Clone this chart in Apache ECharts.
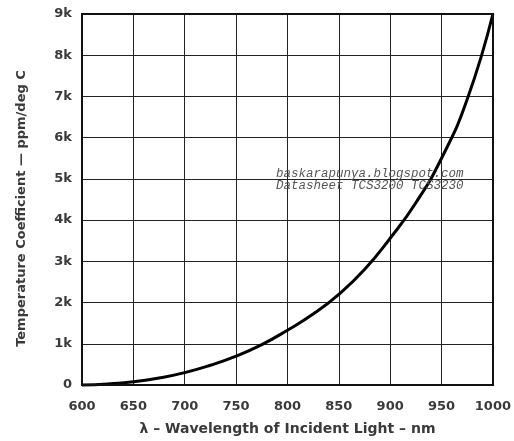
<!DOCTYPE html>
<html>
<head>
<meta charset="utf-8">
<style>html,body{margin:0;padding:0;background:#fff}#c{width:514px;height:441px}</style>
<script src="https://cdn.jsdelivr.net/npm/echarts@6/dist/echarts.min.js"></script>
</head>
<body>
<div id="c"></div>
<script>
var wavelength = [600, 625, 650, 675, 700, 725, 750, 775, 800, 825, 850, 875, 900, 925, 950, 975, 1000];
var tempCoef   = [0, 25, 80, 170, 300, 480, 700, 980, 1330, 1720, 2200, 2800, 3560, 4420, 5500, 6930, 9000];
var xTicks = [600, 650, 700, 750, 800, 850, 900, 950, 1000];
var yTickLabels = ['0', '1k', '2k', '3k', '4k', '5k', '6k', '7k', '8k', '9k'];
var xTitle = 'λ – Wavelength of Incident Light – nm';
var yTitle = 'Temperature Coefficient — ppm/deg C';
var watermark = ['baskarapunya.blogspot.com', 'Datasheet TCS3200 TCS3230'];

var chart = echarts.init(document.getElementById('c'), null, {renderer: 'canvas'});
var pts = wavelength.map(function (w, i) { return [w, tempCoef[i]]; });
var labelFont = {fontFamily: 'DejaVu Sans', fontSize: 13, fontWeight: 'bold', color: '#3a3a3a'};
chart.setOption({
  animation: false,
  backgroundColor: '#fff',
  grid: {left: 82, right: 21, top: 14, bottom: 56, containLabel: false},
  xAxis: {
    type: 'value', min: 600, max: 1000, interval: 50,
    name: xTitle, nameLocation: 'middle', nameGap: 37,
    nameTextStyle: Object.assign({}, labelFont, {fontSize: 14}),
    axisLine: {show: true, lineStyle: {color: '#111', width: 2}},
    axisTick: {show: false},
    axisLabel: Object.assign({margin: 15,
      formatter: function (v) { return xTicks.indexOf(v) >= 0 ? String(v) : ''; }}, labelFont),
    splitLine: {show: true, lineStyle: {color: '#222', width: 1}}
  },
  yAxis: {
    type: 'value', min: 0, max: 9000, interval: 1000,
    name: yTitle, nameLocation: 'middle', nameGap: 54, nameRotate: 90,
    nameTextStyle: Object.assign({}, labelFont, {padding: [0, 18, 0, 0]}),
    axisLine: {show: true, lineStyle: {color: '#111', width: 2}},
    axisTick: {show: false},
    axisLabel: Object.assign({margin: 10,
      formatter: function (v) { return yTickLabels[Math.round(v / 1000)]; }}, labelFont),
    splitLine: {show: true, lineStyle: {color: '#222', width: 1}}
  },
  graphic: [
    {type: 'rect', shape: {x: 82, y: 14, width: 411, height: 371}, style: {fill: 'none', stroke: '#111', lineWidth: 2}, z: 10},
    {type: 'text', left: 276, top: 167, style: {text: watermark[0], font: 'italic 12.5px "Liberation Mono"', fill: '#555'}, z: 20},
    {type: 'text', left: 276, top: 179, style: {text: watermark[1], font: 'italic 12.5px "Liberation Mono"', fill: '#555'}, z: 20}
  ],
  series: [{
    type: 'line', data: pts, smooth: 0.5, showSymbol: false, clip: false,
    lineStyle: {color: '#000', width: 3}, z: 5
  }]
});
</script>
</body>
</html>
